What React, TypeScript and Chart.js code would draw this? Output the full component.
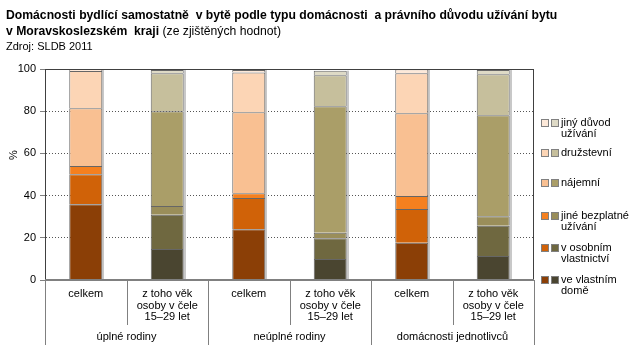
import React, { useEffect, useRef } from "react";
import { Chart, registerables } from "chart.js";

Chart.register(...registerables);

// ---- data ----
const categories: string[][] = [
  ["celkem"],
  ["z toho věk", "osoby v čele", "15–29 let"],
  ["celkem"],
  ["z toho věk", "osoby v čele", "15–29 let"],
  ["celkem"],
  ["z toho věk", "osoby v čele", "15–29 let"],
];
const groups = ["úplné rodiny", "neúplné rodiny", "domácnosti jednotlivců"];
const yTicks = [0, 20, 40, 60, 80, 100];

const seriesNames: string[][] = [
  ["ve vlastním", "domě"],
  ["v osobním", "vlastnictví"],
  ["jiné bezplatné", "užívání"],
  ["nájemní"],
  ["družstevní"],
  ["jiný důvod", "užívání"],
];
const vlastniDum = [35.9, 14.7, 24.0, 10.0, 17.7, 11.4];
const osobniVlastnictvi = [14.2, 16.2, 14.9, 9.8, 15.9, 14.3];
const jineBezplatne = [3.9, 4.2, 2.2, 2.6, 6.2, 4.5];
const najemni = [27.4, 44.9, 38.4, 59.9, 39.2, 47.9];
const druzstevni = [17.7, 18.0, 18.9, 14.7, 19.0, 19.4];
const jinyDuvod = [0.8, 1.5, 1.1, 2.2, 1.9, 2.0];

const seriesValues = [vlastniDum, osobniVlastnictvi, jineBezplatne, najemni, druzstevni, jinyDuvod];

const orange = ["#8b3f06", "#d06208", "#f5801f", "#f9c092", "#fcd5b5", "#fde9d9"];
const olive = ["#4a4530", "#6f6840", "#9a8e5a", "#aa9e68", "#c6bf9c", "#dedac6"];

const FONT = '"Liberation Sans", Arial, sans-serif';

const decorPlugin = {
  id: "decor",
  beforeDatasetsDraw(chart: any) {
    const ctx = chart.ctx;
    const n = chart.data.datasets.length;
    const metaTop = chart.getDatasetMeta(n - 1);
    const metaBot = chart.getDatasetMeta(0);
    ctx.save();
    ctx.fillStyle = "#c8c8c8";
    metaTop.data.forEach((el: any, i: number) => {
      const { x, y, width } = el.getProps(["x", "y", "width"], true);
      const base = metaBot.data[i].getProps(["base"], true).base;
      ctx.fillRect(Math.round(x + width / 2), y, 2, base - y);
    });
    ctx.restore();
  },
  afterDraw(chart: any) {
    const ctx = chart.ctx;
    const { left, right, top, bottom } = chart.chartArea;
    const xs = chart.scales.x;
    ctx.save();

    // frame
    ctx.strokeStyle = "#404040";
    ctx.lineWidth = 1;
    ctx.beginPath();
    ctx.moveTo(left, top + 0.5);
    ctx.lineTo(right, top + 0.5);
    ctx.moveTo(right - 0.5, top);
    ctx.lineTo(right - 0.5, bottom);
    ctx.stroke();
    ctx.fillStyle = "#808080";
    ctx.fillRect(left, bottom - 1, right - left, 2);

    // category separators
    const n = categories.length;
    const px = (i: number) => xs.getPixelForValue(i);
    const half = (px(1) - px(0)) / 2;
    ctx.strokeStyle = "#808080";
    ctx.beginPath();
    for (let i = 0; i <= n; i++) {
      const x = Math.round(i < n ? px(i) - half : px(n - 1) + half) + 0.5;
      const long = i % 2 === 0;
      ctx.moveTo(x, bottom);
      ctx.lineTo(x, long ? 345 : 325);
    }
    ctx.stroke();

    // category labels
    ctx.fillStyle = "#000";
    ctx.font = `11px ${FONT}`;
    ctx.textAlign = "center";
    ctx.textBaseline = "middle";
    categories.forEach((lines, i) => {
      lines.forEach((t, j) => ctx.fillText(t, px(i), 294 + j * 11.5));
    });
    groups.forEach((g, k) => {
      const cx = (px(2 * k) + px(2 * k + 1)) / 2;
      ctx.fillText(g, cx, 337);
    });

    // y title
    ctx.save();
    ctx.translate(14, 155);
    ctx.rotate(-Math.PI / 2);
    ctx.fillText("%", 0, 0);
    ctx.restore();

    // title
    ctx.textAlign = "left";
    ctx.textBaseline = "alphabetic";
    ctx.font = `bold 12.2px ${FONT}`;
    ctx.fillText(
      "Domácnosti bydlící samostatně  v bytě podle typu domácnosti  a právního důvodu užívání bytu",
      6,
      19
    );
    const t2 = "v Moravskoslezském  kraji";
    ctx.fillText(t2, 6, 35);
    const w2 = ctx.measureText(t2).width;
    ctx.font = `12.2px ${FONT}`;
    ctx.fillText(" (ze zjištěných hodnot)", 6 + w2, 35);
    ctx.font = `11px ${FONT}`;
    ctx.fillText("Zdroj: SLDB 2011", 6, 50);

    // legend
    const legendY = [279.5, 248, 215.5, 182.5, 153, 123];
    ctx.font = `11px ${FONT}`;
    ctx.textBaseline = "middle";
    seriesNames.forEach((lines, s) => {
      const cy = legendY[s];
      [orange[s], olive[s]].forEach((c, k) => {
        const x0 = k === 0 ? 541 : 551;
        ctx.fillStyle = "#808080";
        ctx.fillRect(x0, Math.round(cy - 4), 8, 8);
        ctx.fillStyle = c;
        ctx.fillRect(x0 + 1, Math.round(cy - 4) + 1, 6, 6);
      });
      ctx.fillStyle = "#000";
      lines.forEach((t, j) => ctx.fillText(t, 561, cy + j * 11));
    });

    ctx.restore();
  },
};

export default function App() {
  const ref = useRef<HTMLCanvasElement>(null);
  useEffect(() => {
    if (!ref.current) return;
    const chart = new Chart(ref.current, {
      type: "bar",
      data: {
        labels: categories.map((c) => c.join(" ")),
        datasets: seriesValues.map((vals, s) => ({
          label: seriesNames[s].join(" "),
          data: vals,
          backgroundColor: vals.map((_, i) => (i % 2 === 0 ? orange[s] : olive[s])),
          borderColor: "#666666",
          borderWidth: 1,
          barPercentage: 0.405,
          categoryPercentage: 1,
        })),
      },
      options: {
        responsive: false,
        animation: false,
        devicePixelRatio: 1,
        layout: { padding: { top: 69, right: 109, bottom: 78, left: 0 } },
        plugins: { legend: { display: false }, title: { display: false }, tooltip: { enabled: false } },
        scales: {
          x: {
            stacked: true,
            ticks: { display: false },
            grid: { display: false },
            border: { display: false },
            afterFit: (s: any) => {
              s.height = 0;
            },
          },
          y: {
            stacked: true,
            min: 0,
            max: 100,
            afterBuildTicks: (s: any) => {
              s.ticks = yTicks.map((v) => ({ value: v }));
            },
            ticks: {
              color: "#000",
              font: { family: FONT, size: 11 },
              padding: 4,
            },
            grid: {
              color: "#555555",
              tickColor: "#808080",
              tickLength: 5,
              lineWidth: 1,
            },
            border: { display: true, color: "#404040", dash: [1, 2] },
            afterFit: (s: any) => {
              s.width = 45;
            },
          },
        },
      },
      plugins: [decorPlugin],
    });
    return () => chart.destroy();
  }, []);
  return (
    <div style={{ position: "absolute", left: 0, top: 0, width: 643, height: 358, background: "#fff" }}>
      <canvas ref={ref} width={643} height={358} style={{ width: 643, height: 358, display: "block" }} />
    </div>
  );
}
